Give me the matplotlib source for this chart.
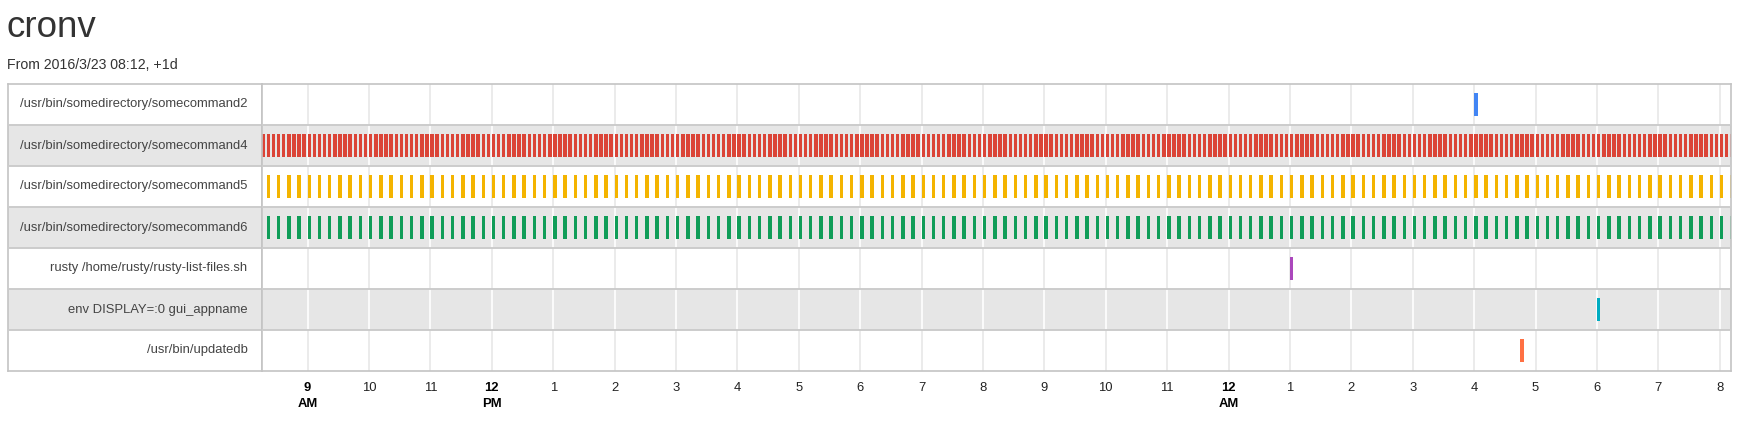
import matplotlib
matplotlib.use("Agg")
import matplotlib.pyplot as plt
import matplotlib.dates as mdates
import pandas as pd

# crontab entries shown by cronv (command + schedule)
commands = [
    "/usr/bin/somedirectory/somecommand2",
    "/usr/bin/somedirectory/somecommand4",
    "/usr/bin/somedirectory/somecommand5",
    "/usr/bin/somedirectory/somecommand6",
    "rusty /home/rusty/rusty-list-files.sh",
    "env DISPLAY=:0 gui_appname",
    "/usr/bin/updatedb",
]
schedules = ["0 4", "*/5 *", "*/10 *", "*/10 *", "0 1", "0 6", "45 4"]  # minute hour
colors = ["#4285f4", "#db4437", "#f4b400", "#0f9d58", "#ab47bc", "#00acc1", "#ff7043"]

range_start = pd.Timestamp("2016-03-23 08:12")
range_end = range_start + pd.Timedelta(days=1)

hour_ticks = [9, 10, 11, 12, 1, 2, 3, 4, 5, 6, 7, 8, 9, 10, 11, 12, 1, 2, 3, 4, 5, 6, 7, 8]
tick_suffix = {0: "AM", 3: "PM", 15: "AM"}


def expand(spec):
    # expand a "minute hour" cron spec over the window
    minute, hour = spec.split()
    out = []
    t = range_start.ceil("min")
    while t < range_end:
        ok_m = (t.minute % int(minute[2:]) == 0) if minute.startswith("*/") else t.minute == int(minute)
        ok_h = hour == "*" or t.hour == int(hour)
        if ok_m and ok_h:
            out.append(t)
        t += pd.Timedelta(minutes=1)
    return out


runs = [expand(s) for s in schedules]
first = min(r[0] for r in runs)
last = max(r[-1] for r in runs) + pd.Timedelta(minutes=1)

W, H = 1740, 421
fig = plt.figure(figsize=(W / 100, H / 100), dpi=100)
top, bot, lab_l, tl_l, right = 84, 371, 8, 261.5, 1731
lab_ax = fig.add_axes([lab_l / W, 1 - bot / H, (tl_l - lab_l) / W, (bot - top) / H])
ax = fig.add_axes([tl_l / W, 1 - bot / H, (right - tl_l) / W, (bot - top) / H])

n = len(commands)
x0, x1 = mdates.date2num(first), mdates.date2num(last)
ax.set_xlim(x0, x1)
for a in (lab_ax, ax):
    a.set_ylim(n, 0)
    a.set_yticks([])
    for s in a.spines.values():
        s.set_color("#c4c4c4")
        s.set_linewidth(1.2)
lab_ax.set_xlim(0, 1)
lab_ax.set_xticks([])

tick_times = []
t = first.ceil("h")
while t <= last:
    tick_times.append(t)
    t += pd.Timedelta(hours=1)
tick_x = mdates.date2num(tick_times)

for i in range(n):
    bg = "#e6e6e6" if i % 2 else "white"
    grid = "white" if i % 2 else "#e8e8e8"
    for a in (lab_ax, ax):
        a.axhspan(i, i + 1, color=bg, zorder=0, lw=0)
        if i > 0:
            a.axhline(i, color="#cccccc", lw=1.4, zorder=3)
    ax.vlines(tick_x, i, i + 1, color=grid, lw=1.2, zorder=1)
    lab_ax.text(0.945, i + 0.5, commands[i], ha="right", va="center",
                fontsize=9.4, color="#444444", family="Liberation Sans")

bar_w = 3.4 / (24 * 60)
for i, (r, c) in enumerate(zip(runs, colors)):
    ax.broken_barh([(mdates.date2num(tt), bar_w) for tt in r], (i + 0.22, 0.56),
                   facecolors=c, lw=0, zorder=2)

labels = []
for k, h in enumerate(hour_ticks):
    labels.append(f"{h}\n{tick_suffix[k]}" if k in tick_suffix else str(h))
ax.set_xticks(tick_x[:len(labels)], labels)
ax.tick_params(axis="x", length=0, pad=8)
for k, lbl in enumerate(ax.get_xticklabels()):
    lbl.set_family("Liberation Sans")
    lbl.set_fontsize(9.4)
    lbl.set_linespacing(1.45)
    lbl.set_verticalalignment("top")
    if k in tick_suffix:
        lbl.set_fontweight("bold")
        lbl.set_color("black")
    else:
        lbl.set_color("#222222")

fig.text(7 / W, 1 - 37 / H, "cronv", fontsize=26.5, color="#333333",
         family="Liberation Sans", va="baseline")
fig.text(7 / W, 1 - 69 / H, "From 2016/3/23 08:12, +1d", fontsize=10.2, color="#333333",
         family="Liberation Sans", va="baseline")

fig.savefig("out.png", dpi=100)
